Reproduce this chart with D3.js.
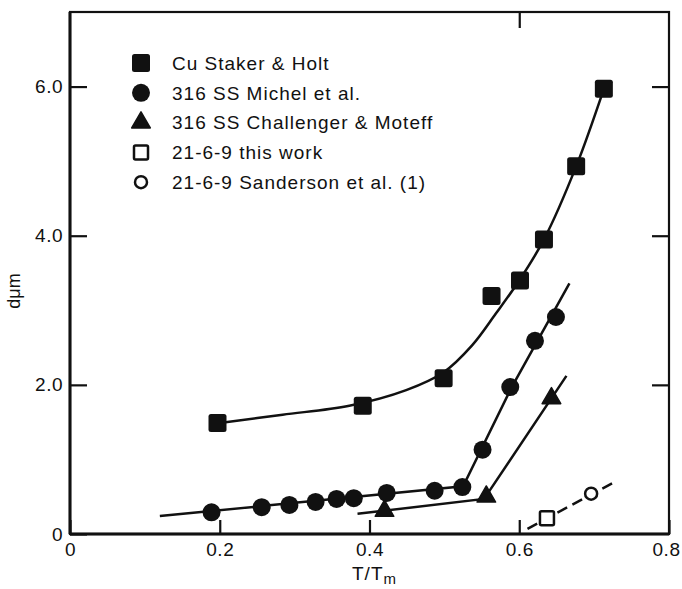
<!DOCTYPE html>
<html>
<head>
<meta charset="utf-8">
<script src="https://cdn.jsdelivr.net/npm/d3@7"></script>
<style>
  body { margin: 0; background: #fff; }
  svg { display: block; }
</style>
</head>
<body>
<div id="chart"></div>
<script>
const [WIDTH, HEIGHT] = [682, 589];

// data (x = T/Tm, y = d in µm)
const cuPoints = [[0.197, 1.49], [0.391, 1.72], [0.499, 2.09], [0.563, 3.19],
    [0.601, 3.40], [0.633, 3.95], [0.676, 4.93], [0.713, 5.97]];
const cuCurve = [[0.2, 1.49], [0.284, 1.6], [0.373, 1.72], [0.449, 1.93], [0.499, 2.17],
    [0.537, 2.53], [0.569, 2.96], [0.6, 3.4], [0.633, 3.95], [0.676, 4.93], [0.713, 5.97]];

const michelPoints = [[0.189, 0.29], [0.256, 0.36], [0.293, 0.39], [0.328, 0.43],
    [0.356, 0.47], [0.379, 0.48], [0.423, 0.55], [0.487, 0.58], [0.524, 0.63],
    [0.551, 1.13], [0.588, 1.97], [0.621, 2.59], [0.649, 2.91]];
const michelLine = [[0.12, 0.24], [0.525, 0.64], [0.59, 1.97], [0.667, 3.36]];

const challengerPoints = [[0.42, 0.31], [0.556, 0.50], [0.643, 1.82]];
const challengerLine = [[0.384, 0.27], [0.553, 0.47], [0.663, 2.12]];

const thisWorkPoints = [[0.637, 0.21]];
const sandersonPoints = [[0.696, 0.54]];
const dashedLine = [[0.611, 0.07], [0.724, 0.68]];

const legendLabels = ['Cu Staker & Holt', '316 SS Michel et al.', '316 SS Challenger & Moteff',
    '21-6-9 this work', '21-6-9 Sanderson et al. (1)'];
const legendMarkers = ['fsquare', 'fcircle', 'ftriangle', 'osquare', 'ocircle'];

const xTicks = [0, 0.2, 0.4, 0.6, 0.8];
const yTicks = [0, 2, 4, 6];
const yTickLabels = ['0', '2.0', '4.0', '6.0'];
const xTickLabels = ['0', '0.2', '0.4', '0.6', '0.8'];

const FONT = "'Liberation Sans', Arial, sans-serif";
const LINE_W = 2.5;

const x = d3.scaleLinear().domain([0, 0.8]).range([70, 669]);
const y = d3.scaleLinear().domain([0, 7]).range([534, 12]);

const svg = d3.select('#chart').append('svg')
    .attr('width', WIDTH)
    .attr('height', HEIGHT)
    .attr('font-family', FONT);

// frame
svg.append('rect')
    .attr('x', x(0)).attr('y', y(7))
    .attr('width', x(0.8) - x(0)).attr('height', y(0) - y(7))
    .attr('fill', 'none').attr('stroke', '#111').attr('stroke-width', 2.2);
svg.append('line')
    .attr('x1', x(0)).attr('x2', x(0)).attr('y1', y(7)).attr('y2', y(0))
    .attr('stroke', '#111').attr('stroke-width', 3);
svg.append('line')
    .attr('x1', x(0)).attr('x2', x(0.8)).attr('y1', y(0)).attr('y2', y(0))
    .attr('stroke', '#111').attr('stroke-width', 3);

// axes
const leftAxis = svg.append('g')
    .attr('transform', `translate(${x(0)},0)`)
    .call(d3.axisLeft(y).tickValues(yTicks).tickSize(-17).tickPadding(7)
        .tickFormat((d, i) => yTickLabels[i]));
const bottomAxis = svg.append('g')
    .attr('transform', `translate(0,${y(0)})`)
    .call(d3.axisBottom(x).tickValues(xTicks).tickSize(-14).tickPadding(9)
        .tickFormat((d, i) => xTickLabels[i]));
const rightAxis = svg.append('g')
    .attr('transform', `translate(${x(0.8)},0)`)
    .call(d3.axisRight(y).tickValues([2, 4, 6]).tickSize(-17).tickFormat(''));
const topAxis = svg.append('g')
    .attr('transform', `translate(0,${y(7)})`)
    .call(d3.axisTop(x).tickValues([0.6]).tickSize(-16).tickFormat(''));

for (const ax of [leftAxis, bottomAxis, rightAxis, topAxis]) {
    ax.select('.domain').remove();
    ax.selectAll('line').attr('stroke', '#111').attr('stroke-width', 2.2);
    ax.selectAll('text')
        .attr('fill', '#111')
        .attr('font-size', 19)
        .attr('font-family', FONT)
        .attr('letter-spacing', 0.5);
}
// last x label sits right at the window edge
bottomAxis.selectAll('.tick').filter(d => d === 0.8).select('text').attr('x', -3);

// axis titles
svg.append('text')
    .attr('transform', 'translate(20,291) rotate(-90)')
    .attr('text-anchor', 'middle')
    .attr('font-size', 18)
    .attr('fill', '#111')
    .text('dμm');

const xTitle = svg.append('text')
    .attr('x', 352).attr('y', 580)
    .attr('font-size', 19)
    .attr('fill', '#111')
    .attr('letter-spacing', 1);
xTitle.append('tspan').text('T/T');
xTitle.append('tspan').attr('dy', 4).attr('font-size', 15).text('m');

// fitted lines
const line = d3.line().x(d => x(d[0])).y(d => y(d[1]));
const curve = d3.line().x(d => x(d[0])).y(d => y(d[1])).curve(d3.curveCatmullRom.alpha(0.5));

const lines = svg.append('g')
    .attr('fill', 'none').attr('stroke', '#111').attr('stroke-width', LINE_W);
lines.append('path').attr('d', curve(cuCurve));
lines.append('path').attr('d', line(michelLine));
lines.append('path').attr('d', line(challengerLine));
lines.append('path').attr('d', line(dashedLine)).attr('stroke-dasharray', '11,6');

// markers
function drawMarker(sel, kind) {
    sel.each(function () {
        const g = d3.select(this);
        if (kind === 'fsquare') {
            g.append('rect').attr('x', -9).attr('y', -9).attr('width', 18).attr('height', 18)
                .attr('rx', 2.5).attr('fill', '#111');
        } else if (kind === 'fcircle') {
            g.append('circle').attr('r', 9).attr('fill', '#111');
        } else if (kind === 'ftriangle') {
            g.append('path').attr('d', d3.symbol(d3.symbolTriangle, 150)())
                .attr('fill', '#111').attr('stroke', '#111').attr('stroke-width', 1.5)
                .attr('stroke-linejoin', 'round');
        } else if (kind === 'osquare') {
            g.append('rect').attr('x', -7).attr('y', -7).attr('width', 14).attr('height', 14)
                .attr('rx', 1.5).attr('fill', '#fff').attr('stroke', '#111').attr('stroke-width', 2.5);
        } else if (kind === 'ocircle') {
            g.append('circle').attr('r', 6).attr('fill', '#fff')
                .attr('stroke', '#111').attr('stroke-width', 2.5);
        }
    });
}

const seriesList = [
    [cuPoints, 'fsquare'],
    [michelPoints, 'fcircle'],
    [challengerPoints, 'ftriangle'],
    [thisWorkPoints, 'osquare'],
    [sandersonPoints, 'ocircle'],
];
for (const [pts, kind] of seriesList) {
    svg.append('g').selectAll('g')
        .data(pts)
        .join('g')
        .attr('transform', d => `translate(${x(d[0])},${y(d[1])})`)
        .call(drawMarker, kind);
}

// legend
const legend = svg.append('g').selectAll('g')
    .data(legendLabels)
    .join('g')
    .attr('transform', (d, i) => `translate(141,${63 + i * 29.8})`);
legend.each(function (d, i) {
    d3.select(this).call(drawMarker, legendMarkers[i]);
});
legend.append('text')
    .attr('x', 31)
    .attr('dy', '0.36em')
    .attr('font-size', 19)
    .attr('letter-spacing', 1)
    .attr('fill', '#111')
    .text(d => d);
</script>
</body>
</html>
